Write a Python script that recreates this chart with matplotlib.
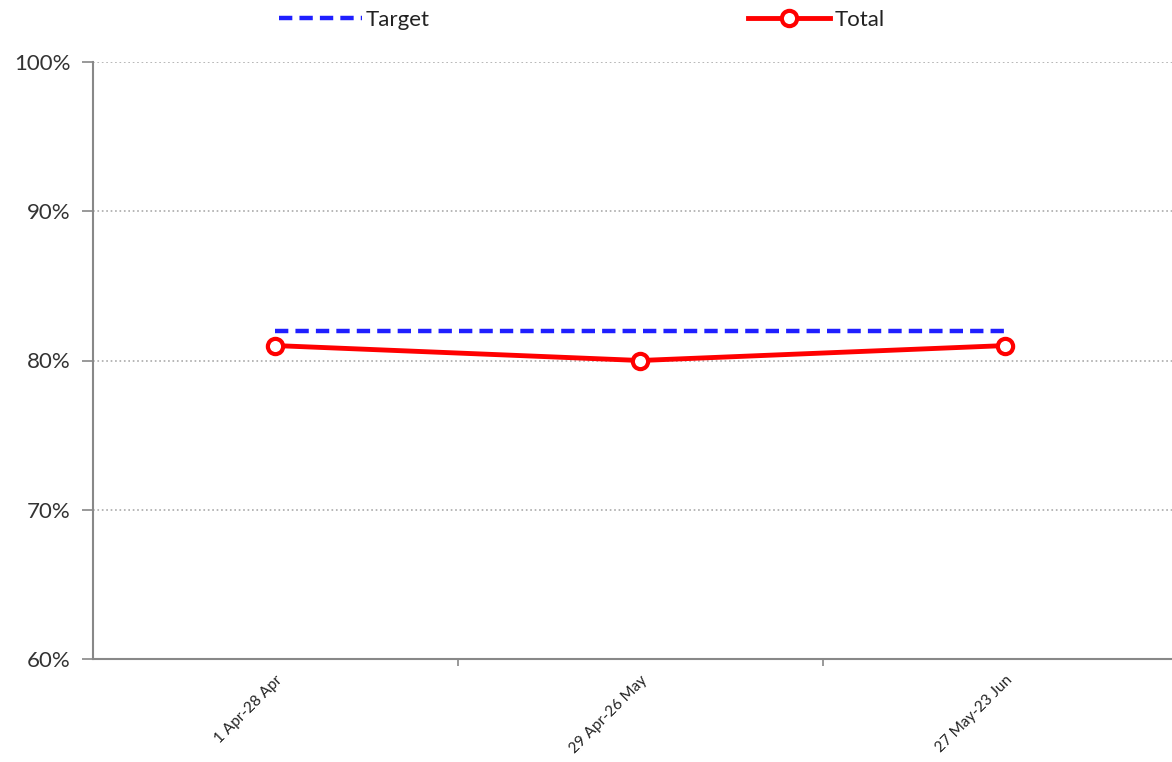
import matplotlib.pyplot as plt
from matplotlib.ticker import FuncFormatter

plt.rcParams['font.family'] = ['Lato', 'DejaVu Sans']

# data
periods = ['1 Apr-28 Apr', '29 Apr-26 May', '27 May-23 Jun']
target = [82, 82, 82]
total = [81, 80, 81]

fig = plt.figure(figsize=(11.72, 7.62), dpi=100)
ax = fig.add_axes([93 / 1172, 1 - 659 / 762, (1172 - 93) / 1172, (659 - 62) / 762])

x = list(range(len(periods)))
ax.plot(x, target, color='#1f1fff', linestyle=(0, (3, 1.6)), linewidth=3.2,
        label='Target', zorder=3)
ax.plot(x, total, color='#ff0000', linewidth=3.5, marker='o', markersize=11,
        markerfacecolor='white', markeredgecolor='#ff0000', markeredgewidth=3,
        label='Total', zorder=4)

ax.set_ylim(60, 100)
ax.set_yticks([60, 70, 80, 90, 100])
ax.yaxis.set_major_formatter(FuncFormatter(lambda v, p: f'{v:.0f}%'))
ax.set_xlim(-0.5, (1172 - 275) / 365)
ax.set_xticks([0.5, 1.5])
ax.set_xticklabels([])
ax.set_xticks(x, minor=True)
ax.set_xticklabels(periods, minor=True, rotation=45, ha='right',
                   rotation_mode='anchor', fontsize=11, color='#222222')
ax.tick_params(axis='x', which='minor', length=0, pad=10)
ax.tick_params(axis='x', which='major', length=5, width=1.2, color='#888888')
ax.tick_params(axis='y', length=8, width=1.2, color='#888888', labelsize=16,
               labelcolor='#333333', pad=8)

ax.grid(axis='y', color='#aaaaaa', linestyle=':', linewidth=1.2)
ax.set_axisbelow(True)
for side in ['top', 'right']:
    ax.spines[side].set_visible(False)
for side in ['left', 'bottom']:
    ax.spines[side].set_color('#888888')
    ax.spines[side].set_linewidth(1.5)

fig.legend(loc='upper left', bbox_to_anchor=(266 / 1172, 1.005), ncol=2,
           frameon=False, fontsize=16, handlelength=3.7, handletextpad=0.2,
           columnspacing=14.3, borderaxespad=0.2, labelcolor='#222222')

fig.savefig('out.png', dpi=100)
